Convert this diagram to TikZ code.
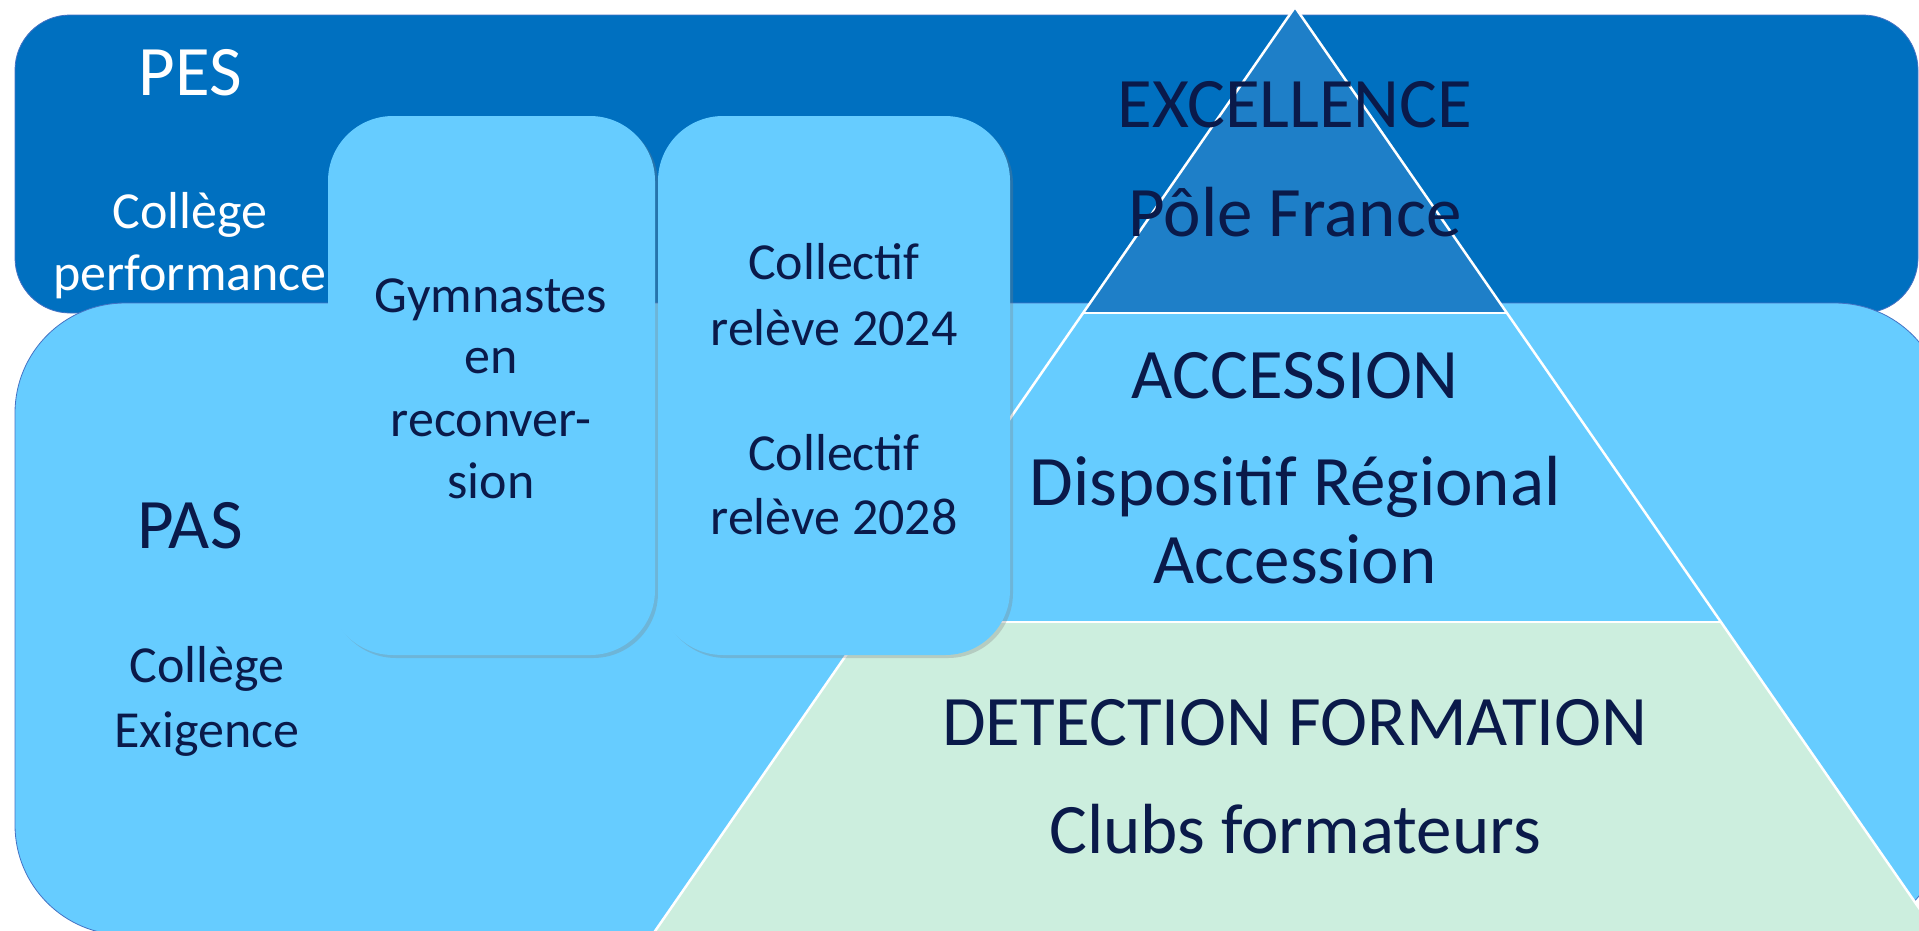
\documentclass[tikz,border=0pt]{standalone}
\usepackage{fontspec}
\setmainfont{Carlito}
\usetikzlibrary{shadows}
\definecolor{pesblue}{HTML}{0070C0}
\definecolor{lightblue}{HTML}{66CCFF}
\definecolor{exblue}{HTML}{1E7FC8}
\definecolor{mint}{HTML}{CCEEDE}
\definecolor{navy}{HTML}{0A1A4A}
\definecolor{edgeblue}{HTML}{4472C4}
\begin{document}
\begin{tikzpicture}[x=1pt,y=-1pt,
  bigbox/.style={draw=edgeblue, line width=0.8pt},
  card/.style={fill=lightblue, rounded corners=65pt,
    drop shadow={opacity=0.3, shadow xshift=3pt, shadow yshift=-3pt}},
  sepline/.style={draw=white, line width=2.5pt, line join=round},
  lbl/.style={anchor=base, inner sep=0pt},
  huge/.style={lbl, font=\fontsize{71}{86}\selectfont},
  mid/.style={lbl, font=\fontsize{52}{63}\selectfont},
  cardtxt/.style={lbl, text=navy, font=\fontsize{52}{63}\selectfont},
  pyr/.style={lbl, text=navy, font=\fontsize{71}{86}\selectfont}]
\useasboundingbox (0,0) rectangle (1919,930);
\clip (0,0) rectangle (1919,930);
% background boxes
\path[bigbox, fill=pesblue, rounded corners=55pt] (15,15) rectangle (1918,313);
\path[bigbox, fill=lightblue, rounded corners=110pt] (15,303) rectangle (1945,935);
% pyramid bands
\fill[exblue] (1295,7) -- (1507,313) -- (1083,313) -- cycle;
\fill[lightblue] (1083,313) -- (1507,313) -- (1721,622) -- (869,622) -- cycle;
\fill[mint] (869,622) -- (1721,622) -- (1955,960) -- (635,960) -- cycle;
\draw[sepline] (635,960) -- (1295,7) -- (1955,960);
\draw[sepline] (1083,313) -- (1507,313);
\draw[sepline] (869,622) -- (1721,622);
% cards
\path[card] (328,116) rectangle (655,655);
\path[card] (658,116) rectangle (1010,655);
% texts
\node[huge, text=white] (pes) at (190,95) {PES};
\node[mid, text=white] (cp1) at (190,228) {Collège};
\node[mid, text=white] (cp2) at (190,290) {performance};
\node[huge, text=navy] (pas) at (190,548) {PAS};
\node[mid, text=navy] (ce1) at (207,682) {Collège};
\node[mid, text=navy] (ce2) at (207,747) {Exigence};
\node[cardtxt] (g1) at (491,312) {Gymnastes};
\node[cardtxt] (g2) at (491,373) {en};
\node[cardtxt] (g3) at (491,436) {reconver-};
\node[cardtxt] (g4) at (491,498) {sion};
\node[cardtxt] (c1) at (834,279) {Collectif};
\node[cardtxt] (c2) at (834,345) {relève 2024};
\node[cardtxt] (c3) at (834,470) {Collectif};
\node[cardtxt] (c4) at (834,534) {relève 2028};
\node[pyr] (ex) at (1295,127) {EXCELLENCE};
\node[pyr] (pf) at (1295,236) {Pôle France};
\node[pyr] (ac) at (1295,398) {ACCESSION};
\node[pyr] (dr1) at (1295,505) {Dispositif Régional};
\node[pyr] (dr2) at (1295,583) {Accession};
\node[pyr] (df) at (1295,745) {DETECTION FORMATION};
\node[pyr] (cf) at (1295,853) {Clubs formateurs};
\end{tikzpicture}
\end{document}
